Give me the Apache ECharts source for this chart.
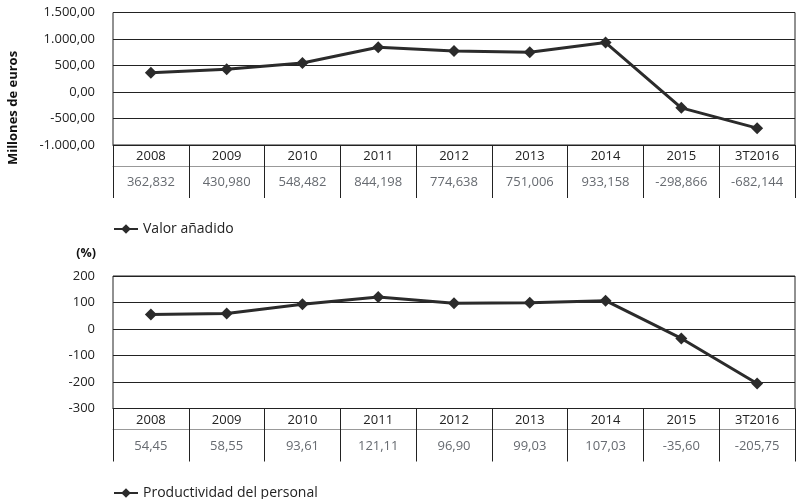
<!DOCTYPE html>
<html>
<head>
<meta charset="utf-8">
<script src="https://cdn.jsdelivr.net/npm/echarts@6/dist/echarts.min.js"></script>
<style>html,body{margin:0;padding:0;background:#fff;}#c{width:804px;height:499px;}</style>
</head>
<body>
<div id="c"></div>
<script>
var categories = ['2008','2009','2010','2011','2012','2013','2014','2015','3T2016'];
var valorAnadido = [362.832, 430.980, 548.482, 844.198, 774.638, 751.006, 933.158, -298.866, -682.144];
var productividad = [54.45, 58.55, 93.61, 121.11, 96.90, 99.03, 107.03, -35.60, -205.75];
var seriesNames = ['Valor añadido', 'Productividad del personal'];
var axisTitles = ['Millones de euros', '(%)'];

var FONT = '"Open Sans", "Noto Sans", sans-serif';
var DARK = '#222';
var LINE = '#2b2b2b';

function esNum(v, dec) {
  var s = Math.abs(v).toFixed(dec).split('.');
  var ip = s[0].replace(/\B(?=(\d{3})+(?!\d))/g, '.');
  return (v < 0 ? '-' : '') + ip + (dec > 0 ? ',' + s[1] : '');
}
var valorLabels = valorAnadido.map(function (v) { return v.toFixed(3).replace('.', ','); });
var prodLabels = productividad.map(function (v) { return v.toFixed(2).replace('.', ','); });

function yearAxis(gi) {
  return {
    gridIndex: gi, type: 'category', data: categories, position: 'bottom', boundaryGap: true,
    axisLine: { show: true, onZero: false, lineStyle: { color: DARK, width: 1 } },
    axisTick: { show: true, interval: 0, length: 53, lineStyle: { color: DARK, width: 1 } },
    axisLabel: { interval: 0, margin: 5, fontSize: 13, color: DARK, fontFamily: FONT },
    splitLine: { show: false }
  };
}
function valueAxis(gi, labels) {
  return {
    gridIndex: gi, type: 'category', data: labels, position: 'bottom', offset: 21, boundaryGap: true,
    axisLine: { show: true, onZero: false, lineStyle: { color: '#999', width: 1 } },
    axisTick: { show: false },
    axisLabel: { interval: 0, margin: 10, fontSize: 13, color: '#666a70', fontFamily: FONT },
    splitLine: { show: false }
  };
}
function yAxis(gi, min, max, interval, fmt) {
  return {
    gridIndex: gi, type: 'value', min: min, max: max, interval: interval,
    axisLine: { show: false }, axisTick: { show: false },
    axisLabel: { margin: 18, fontSize: 13, color: DARK, fontFamily: FONT, formatter: fmt },
    splitLine: { show: true, lineStyle: { color: DARK, width: 1 } }
  };
}
function lineSeries(name, data, i) {
  return {
    name: name, type: 'line', xAxisIndex: i * 2, yAxisIndex: i, data: data,
    symbol: 'diamond', symbolSize: 12, showSymbol: true,
    lineStyle: { color: LINE, width: 3 }, itemStyle: { color: LINE },
    emphasis: { disabled: true }, animation: false
  };
}

var chart = echarts.init(document.getElementById('c'), null, { renderer: 'canvas' });
chart.setOption({
  animation: false,
  textStyle: { fontFamily: FONT },
  grid: [
    { left: 113, right: 9, top: 12.5, height: 132.5, show: true, borderColor: DARK, borderWidth: 1, backgroundColor: 'transparent' },
    { left: 113, right: 9, top: 276, height: 132.5, show: true, borderColor: DARK, borderWidth: 1, backgroundColor: 'transparent' }
  ],
  xAxis: [yearAxis(0), valueAxis(0, valorLabels), yearAxis(1), valueAxis(1, prodLabels)],
  yAxis: [
    yAxis(0, -1000, 1500, 500, function (v) { return esNum(v, 2); }),
    yAxis(1, -300, 200, 100, function (v) { return String(v); })
  ],
  legend: [
    { data: [seriesNames[0]], left: 108, top: 217, itemWidth: 24, itemHeight: 12, itemGap: 8,
      textStyle: { fontSize: 14, color: DARK, fontFamily: FONT } },
    { data: [seriesNames[1]], left: 108, top: 481, itemWidth: 24, itemHeight: 12, itemGap: 8,
      textStyle: { fontSize: 14, color: DARK, fontFamily: FONT } }
  ],
  graphic: [
    { type: 'text', x: 13, y: 108, rotation: Math.PI / 2,
      style: { text: axisTitles[0], font: 'bold 13px ' + FONT, fill: '#111', align: 'center', verticalAlign: 'middle' } },
    { type: 'text', x: 96, y: 253,
      style: { text: axisTitles[1], font: 'bold 12.5px ' + FONT, fill: '#111', align: 'right', verticalAlign: 'middle' } }
  ],
  series: [lineSeries(seriesNames[0], valorAnadido, 0), lineSeries(seriesNames[1], productividad, 1)]
});
</script>
</body>
</html>
